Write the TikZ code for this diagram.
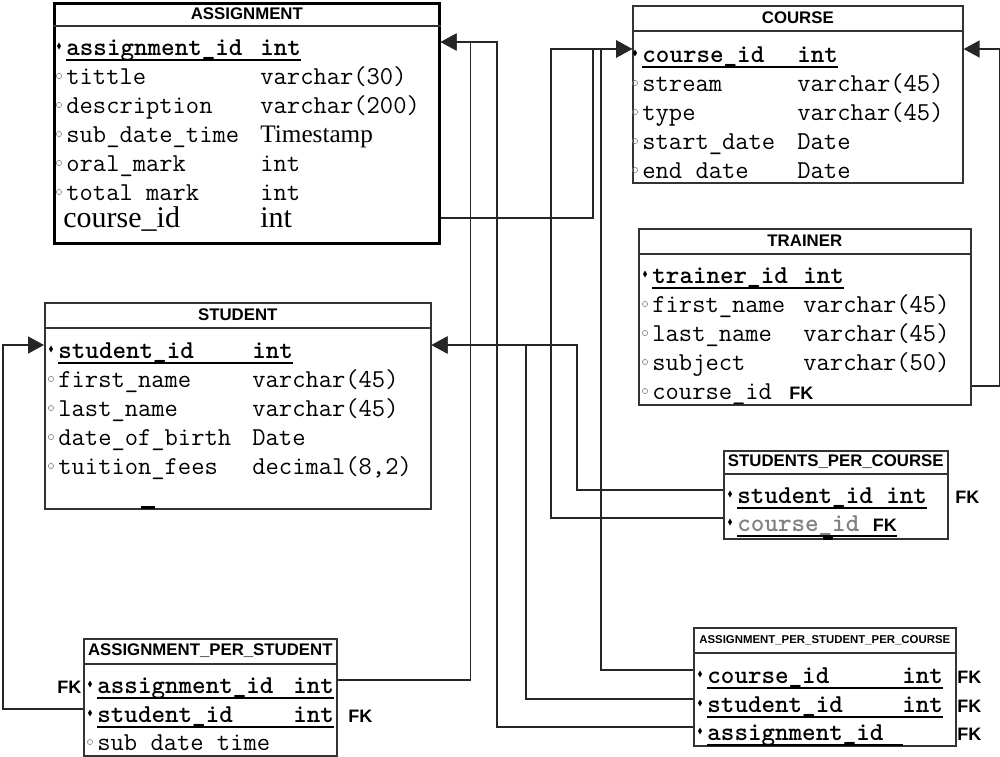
\documentclass[tikz,border=0pt]{standalone}
\usepackage{fontspec}
\setmainfont{Liberation Serif}
\setsansfont{Liberation Sans}
\usetikzlibrary{arrows.meta}
\usetikzlibrary{shapes.geometric}
\definecolor{Frame}{rgb}{.2,.2,.2}

\begin{document}
\begin{tikzpicture}[
  x=0.5pt, y=-0.5pt,
  entity/.style={draw=Frame, line width=0.8pt, anchor=north west, inner sep=0pt},
  tabletitle/.style={font=\sffamily\bfseries\fontsize{8.4}{10}\selectfont, anchor=north, minimum height=12.5pt, inner sep=0pt},
  divider/.style={draw=Frame, line width=0.9pt},
  cell/.style={font=\ttfamily\fontsize{12.9}{14}\selectfont, anchor=base west, inner sep=0pt, text height=13pt, text depth=0pt},
  dotmark/.style={circle, draw=gray, line width=0.3pt, minimum size=2.6pt, inner sep=0pt},
  keymark/.style={diamond, fill=black, minimum width=2.2pt, minimum height=3.6pt, inner sep=0pt},
  keyline/.style={draw, line width=0.9pt},
  field/.style={cell, append after command={([shift={(-3.5pt,4pt)}]\tikzlastnode.base west) node[dotmark] {}}},
  pkey/.style={cell, font=\ttfamily\bfseries\fontsize{12.9}{14}\selectfont,
    append after command={([yshift=-2.5pt]\tikzlastnode.base west) edge[keyline] ([yshift=-2.5pt]\tikzlastnode.base east)
      ([shift={(-3.5pt,4.5pt)}]\tikzlastnode.base west) node[keymark] {}}},
  fk/.style={font=\sffamily\bfseries\fontsize{9}{10}\selectfont, anchor=base west, inner sep=0pt},
  link/.style={draw=black!85, line width=0.8pt, -{Triangle[length=8pt,width=8.5pt]}},
  ]

\useasboundingbox (0,0) rectangle (1000,756);

% ASSIGNMENT
\node [entity, draw=black, line width=1.35pt, minimum width=192.5pt, minimum height=120pt] (assignment) at (53,2) {};
\node [tabletitle, minimum height=11.5pt] (assignment-t) at (assignment.north) {ASSIGNMENT};
\draw [divider] (assignment-t.south -| assignment.west) -- (assignment-t.south -| assignment.east);
\node [pkey] (a-id) at (66,55) {\makebox[97pt][l]{assignment\_id}int};
\node [field] (a-tit) at (66,84) {\makebox[97pt][l]{tittle}varchar(30)};
\node [field] (a-desc) at (66,113) {\makebox[97pt][l]{description}varchar(200)};
\node [field] (a-sub) at (66,142) {\makebox[97pt][l]{sub\_date\_time}{\rmfamily\fontsize{12.6}{14}\selectfont Timestamp}};
\node [field] (a-oral) at (66,171) {\makebox[97pt][l]{oral\_mark}int};
\node [field] (a-total) at (66,200) {\makebox[97pt][l]{total mark}int};
\node [cell, font=\rmfamily\fontsize{15}{17}\selectfont, text height=9pt] (a-cid) at (63,227) {\makebox[98.5pt][l]{course\_id}int};

% COURSE
\node [entity, minimum width=165pt, minimum height=88.5pt] (course) at (632,5) {};
\node [tabletitle] (course-t) at (course.north) {COURSE};
\draw [divider] (course-t.south -| course.west) -- (course-t.south -| course.east);
\node [pkey] (c-id) at (642,62) {\makebox[77.5pt][l]{course\_id}int};
\node [field] (c-stream) at (642,91) {\makebox[77.5pt][l]{stream}varchar(45)};
\node [field] (c-type) at (642,120) {\makebox[77.5pt][l]{type}varchar(45)};
\node [field] (c-start) at (642,149) {\makebox[77.5pt][l]{start\_date}Date};
\node [field] (c-end) at (642,178) {\makebox[77.5pt][l]{end date}Date};

% TRAINER
\node [entity, minimum width=166pt, minimum height=88pt] (trainer) at (638,228) {};
\node [tabletitle] (trainer-t) at (trainer.north) {TRAINER};
\draw [divider] (trainer-t.south -| trainer.west) -- (trainer-t.south -| trainer.east);
\node [pkey] (t-id) at (652,283) {\makebox[75.5pt][l]{trainer\_id}int};
\node [field] (t-first) at (652,312) {\makebox[75.5pt][l]{first\_name}varchar(45)};
\node [field] (t-last) at (652,341) {\makebox[75.5pt][l]{last\_name}varchar(45)};
\node [field] (t-subj) at (652,370) {\makebox[75.5pt][l]{subject}varchar(50)};
\node [field] (t-cid) at (652,399) {course\_id\hspace{2pt} {\sffamily\bfseries\fontsize{9}{10}\selectfont FK}};

% STUDENT
\node [entity, minimum width=193pt, minimum height=103pt] (student) at (44,302) {};
\node [tabletitle] (student-t) at (student.north) {STUDENT};
\draw [divider] (student-t.south -| student.west) -- (student-t.south -| student.east);
\node [pkey] (s-id) at (58,358) {\makebox[97pt][l]{student\_id}int};
\node [field] (s-first) at (58,387) {\makebox[97pt][l]{first\_name}varchar(45)};
\node [field] (s-last) at (58,416) {\makebox[97pt][l]{last\_name}varchar(45)};
\node [field] (s-dob) at (58,445) {\makebox[97pt][l]{date\_of\_birth}Date};
\node [field] (s-fees) at (58,474) {\makebox[97pt][l]{tuition\_fees}decimal(8,2)};
\draw [line width=1.5pt] (141,507) -- (155,507);

% STUDENTS_PER_COURSE
\node [entity, minimum width=112pt, minimum height=44pt] (spc) at (723,450) {};
\node [tabletitle, minimum height=11.5pt] (spc-t) at (spc.north) {STUDENTS\_PER\_COURSE};
\draw [divider] (spc-t.south -| spc.west) -- (spc-t.south -| spc.east);
\node [pkey] (spc-sid) at (737,503) {student\_id int};
\node [pkey, text=gray] (spc-cid) at (737,531) {course\_id {\color{black}\sffamily\bfseries\fontsize{9}{10}\selectfont FK}};
\node [fk] (spc-fk) at (955,503) {FK};
\draw [line width=1.5pt] (823,538) -- (833,538);

% ASSIGNMENT_PER_STUDENT_PER_COURSE
\node [entity, minimum width=131pt, minimum height=59pt] (apspc) at (693,627) {};
\node [tabletitle, font=\sffamily\bfseries\fontsize{5.7}{7}\selectfont] (apspc-t) at (apspc.north) {ASSIGNMENT\_PER\_STUDENT\_PER\_COURSE};
\draw [divider] (apspc-t.south -| apspc.west) -- (apspc-t.south -| apspc.east);
\node [pkey] (apspc-cid) at (707,683) {\makebox[97.5pt][l]{course\_id}int};
\node [pkey] (apspc-sid) at (707,712) {\makebox[97.5pt][l]{student\_id}int};
\node [pkey] (apspc-aid) at (707,740) {\makebox[97.5pt][l]{assignment\_id}};
\node [fk] (apspc-fk1) at (957,683) {FK};
\node [fk] (apspc-fk2) at (957,712) {FK};
\node [fk] (apspc-fk3) at (957,740) {FK};

% ASSIGNMENT_PER_STUDENT
\node [entity, minimum width=126.5pt, minimum height=58.5pt] (aps) at (83,638) {};
\node [tabletitle] (aps-t) at (aps.north) {ASSIGNMENT\_PER\_STUDENT};
\draw [divider] (aps-t.south -| aps.west) -- (aps-t.south -| aps.east);
\node [pkey] (aps-aid) at (97,693) {\makebox[98pt][l]{assignment\_id}int};
\node [pkey] (aps-sid) at (97,722) {\makebox[98pt][l]{student\_id}int};
\node [field] (aps-sub) at (97,750) {sub date time};
\node [fk] (aps-fk1) at (57,693) {FK};
\node [fk] (aps-fk2) at (348,722) {FK};

% links
\draw [link] (aps-aid -| aps.east) -- ++(133,0) |- (a-id -| assignment.east);
\draw [link] (apspc-aid -| apspc.west) -- ++(-196,0) |- (a-id -| assignment.east);
\draw [link] (spc-sid -| spc.west) -- ++(-146,0) |- (s-id -| student.east);
\draw [link] (apspc-sid -| apspc.west) -- ++(-167,0) |- (s-id -| student.east);
\draw [link] (aps-sid -| aps.west) -- ++(-80,0) |- (s-id -| student.west);
\draw [link] (spc-cid -| spc.west) -- ++(-172,0) |- (c-id -| course.west);
\draw [link] (a-cid -| assignment.east) -- ++(152,0) |- (c-id -| course.west);
\draw [link] (apspc-cid -| apspc.west) -- ++(-92,0) |- (c-id -| course.west);
\draw [link] (t-cid -| trainer.east) -- ++(28,0) |- (c-id -| course.east);
\end{tikzpicture}
\end{document}
